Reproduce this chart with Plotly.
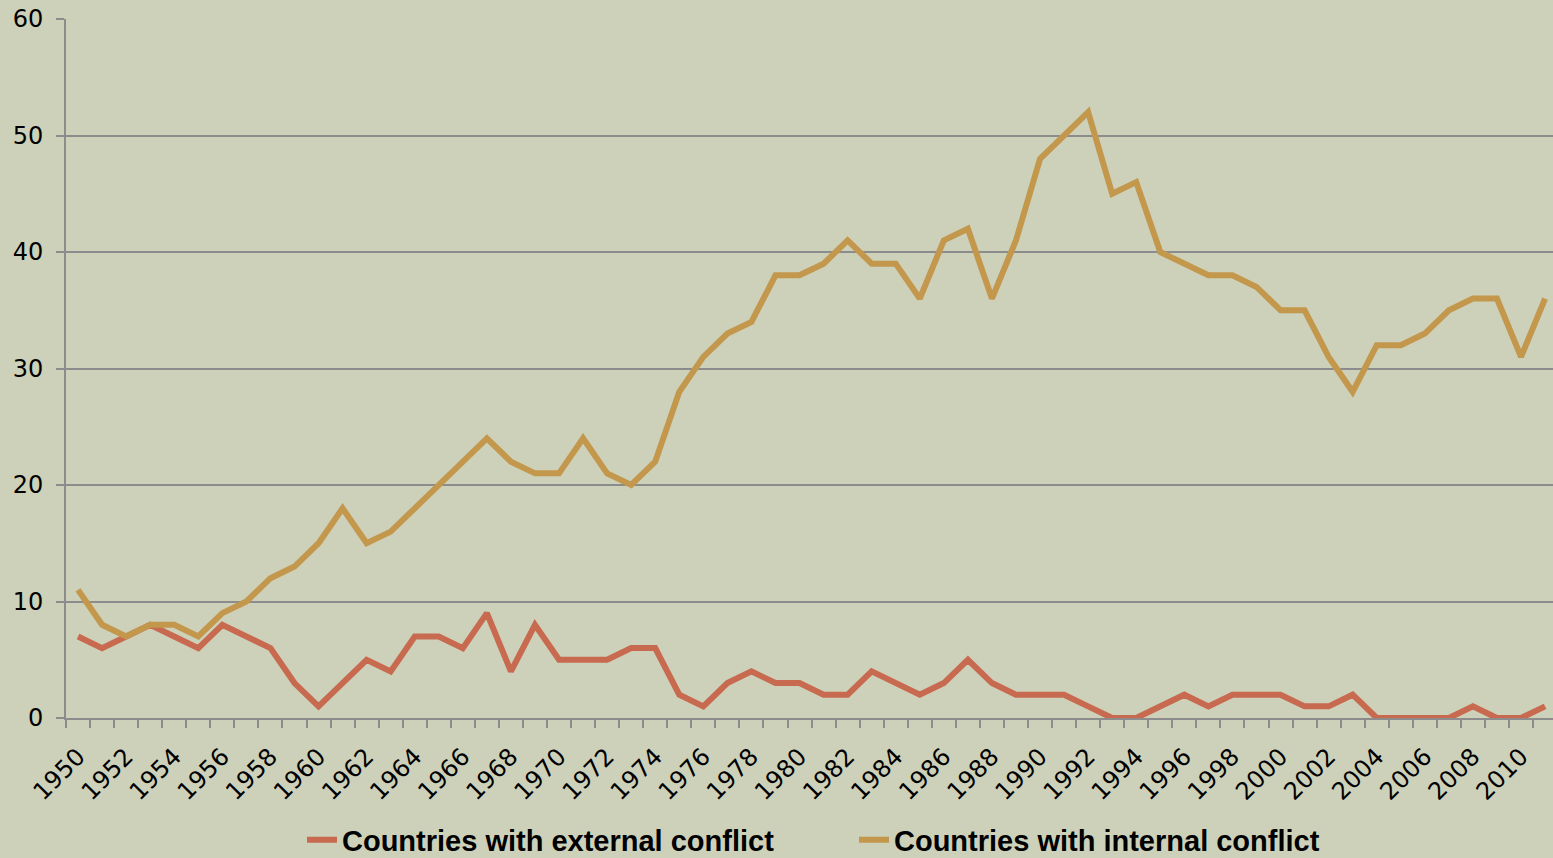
import plotly.graph_objects as go

years = list(range(1950, 2012))
external = [7, 6, 7, 8, 7, 6, 8, 7, 6, 3, 1, 3, 5, 4, 7, 7, 6, 9, 4, 8,
            5, 5, 5, 6, 6, 2, 1, 3, 4, 3, 3, 2, 2, 4, 3, 2, 3, 5, 3, 2,
            2, 2, 1, 0, 0, 1, 2, 1, 2, 2, 2, 1, 1, 2, 0, 0, 0, 0, 1, 0,
            0, 1]
internal = [11, 8, 7, 8, 8, 7, 9, 10, 12, 13, 15, 18, 15, 16, 18, 20, 22, 24, 22, 21,
            21, 24, 21, 20, 22, 28, 31, 33, 34, 38, 38, 39, 41, 39, 39, 36, 41, 42, 36, 41,
            48, 50, 52, 45, 46, 40, 39, 38, 38, 37, 35, 35, 31, 28, 32, 32, 33, 35, 36, 36,
            31, 36]
tick_years = list(range(1950, 2011, 2))
series_names = ["Countries with external conflict", "Countries with internal conflict"]
series_colors = ["#C86A50", "#C3974C"]

bg = "#CDD1B9"
grid = "#8C8C8C"

fig = go.Figure()
for name, vals, col in zip(series_names, [external, internal], series_colors):
    fig.add_trace(go.Scatter(x=years, y=vals, mode="lines", name=name,
                             line=dict(color=col, width=6)))

fig.update_layout(
    width=1553, height=858,
    paper_bgcolor=bg, plot_bgcolor=bg,
    margin=dict(l=66, r=0, t=19, b=140, autoexpand=False),
    showlegend=True,
    legend=dict(orientation="h", xref="container", x=302 / 1553, xanchor="left",
                yref="container", y=0.021, yanchor="middle",
                font=dict(family="Liberation Sans, Arial", size=29, color="#000000", weight="bold"),
                bgcolor="rgba(0,0,0,0)", entrywidth=507, entrywidthmode="pixels",
                tracegroupgap=0),
    font=dict(family="DejaVu Sans", size=24, color="#000000"),
)
fig.update_xaxes(
    range=[1949.5, 1949.5 + 1487 / 24.05],
    tickmode="array", tickvals=tick_years, ticktext=[str(y) for y in tick_years],
    tickangle=-45, ticks="", showgrid=False,
    showline=True, linecolor=grid, linewidth=2,
    minor=dict(tickmode="linear", tick0=1949.5, dtick=1, ticks="outside", ticklen=8,
               tickcolor=grid, tickwidth=2, showgrid=False),
    tickfont=dict(family="DejaVu Sans", size=24),
    ticklabelstandoff=13, automargin=False,
    zeroline=False,
)
fig.update_yaxes(
    range=[0, 60], dtick=10, tick0=0,
    showgrid=True, gridcolor=grid, gridwidth=2,
    showline=True, linecolor=grid, linewidth=2,
    ticks="outside", ticklen=8, tickcolor=grid, tickwidth=2,
    tickfont=dict(family="DejaVu Sans", size=24),
    ticklabelstandoff=8, automargin=False,
    zeroline=False,
)

fig.write_html("out.html", config={"displayModeBar": False},
               post_script="document.body.style.margin='0';document.body.style.overflow='hidden';")
